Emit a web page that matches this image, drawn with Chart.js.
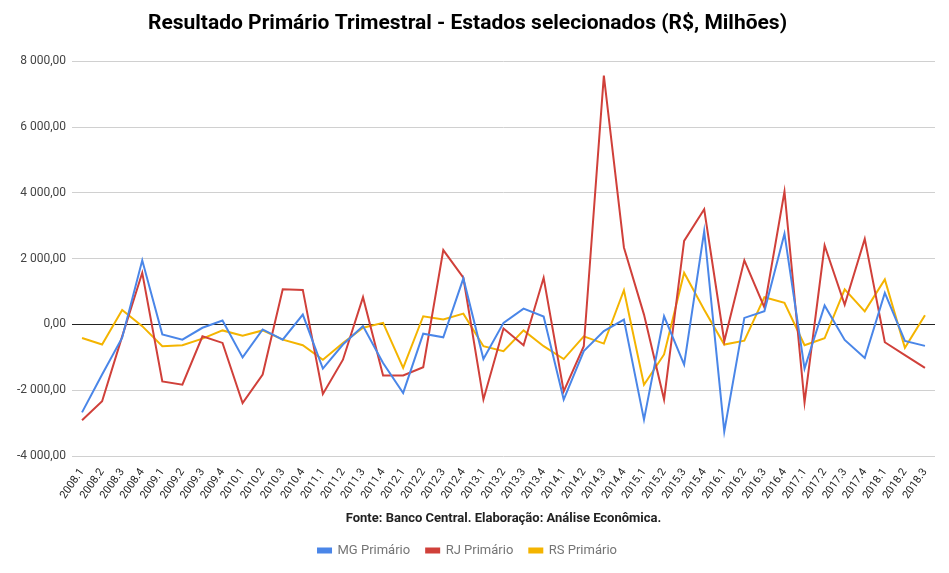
<!DOCTYPE html>
<html>
<head>
<meta charset="utf-8">
<script src="https://cdn.jsdelivr.net/npm/chart.js@4.4.1/dist/chart.umd.min.js"></script>
<style>
  html, body { margin: 0; padding: 0; background: #fff; }
  #wrap { width: 949px; height: 573px; }
</style>
</head>
<body>
<div id="wrap"><canvas id="mycanvas" width="949" height="573"></canvas></div>
<script>
var quarters = ["2008.1","2008.2","2008.3","2008.4","2009.1","2009.2","2009.3","2009.4",
  "2010.1","2010.2","2010.3","2010.4","2011.1","2011.2","2011.3","2011.4",
  "2012.1","2012.2","2012.3","2012.4","2013.1","2013.2","2013.3","2013.4",
  "2014.1","2014.2","2014.3","2014.4","2015.1","2015.2","2015.3","2015.4",
  "2016.1","2016.2","2016.3","2016.4","2017.1","2017.2","2017.3","2017.4",
  "2018.1","2018.2","2018.3"];

var mg = [-2670, -1520, -400, 1950, -300, -460, -100, 120, -1000, -150, -460, 300,
  -1340, -610, -50, -1170, -2080, -280, -390, 1400, -1050, 50, 480, 240,
  -2280, -810, -200, 150, -2890, 250, -1220, 2840, -3250, 200, 400, 2760,
  -1340, 580, -470, -1020, 960, -500, -650];

var rj = [-2910, -2330, -360, 1570, -1730, -1830, -360, -560, -2390, -1520, 1070, 1050,
  -2110, -1070, 830, -1550, -1550, -1300, 2260, 1420, -2280, -120, -630, 1420,
  -2030, -660, 7560, 2340, 300, -2280, 2540, 3500, -510, 1950, 520, 4040,
  -2370, 2400, 600, 2600, -540, -930, -1320];

var rs = [-410, -610, 440, -50, -660, -630, -430, -180, -340, -180, -460, -630,
  -1070, -560, -100, 50, -1320, 250, 150, 330, -660, -810, -180, -660,
  -1050, -360, -580, 1040, -1830, -910, 1570, 450, -610, -490, 830, 660,
  -630, -420, 1070, 400, 1370, -710, 280];

var yMin = -4000, yMax = 8000, yStep = 2000;

function fmt(v) {
  var neg = v < 0;
  var s = String(Math.abs(v)).replace(/\B(?=(\d{3})+(?!\d))/g, " ");
  return (neg ? "-" : "") + s + ",00";
}

var chartdata = {
  labels: quarters,
  datasets: [
    { label: "MG Primário", data: mg, borderColor: "#4a86e8", backgroundColor: "#4a86e8" },
    { label: "RJ Primário", data: rj, borderColor: "#d0403a", backgroundColor: "#d0403a" },
    { label: "RS Primário", data: rs, borderColor: "#f4b400", backgroundColor: "#f4b400" }
  ]
};
chartdata.datasets.forEach(function(d) {
  d.fill = false;
  d.tension = 0;
  d.borderWidth = 2;
  d.pointRadius = 0;
  d.pointHoverRadius = 0;
});

Chart.defaults.font.family = "Roboto, 'Noto Sans', sans-serif";

var ctx = document.getElementById("mycanvas");
var LineGraph = new Chart(ctx, {
  type: "line",
  data: chartdata,
  options: {
    responsive: false,
    animation: false,
    layout: { padding: { left: 0, right: 14, top: 8, bottom: 6 } },
    plugins: {
      title: {
        display: true,
        text: "Resultado Primário Trimestral - Estados selecionados (R$, Milhões)",
        color: "#000",
        font: { size: 21, weight: "bold" },
        padding: { top: 3, bottom: 25 }
      },
      legend: {
        position: "bottom",
        labels: {
          color: "#757575",
          font: { size: 13 },
          boxWidth: 13,
          boxHeight: 4,
          padding: 16
        }
      },
      tooltip: { enabled: false }
    },
    scales: {
      x: {
        offset: true,
        grid: { display: false },
        border: { display: false },
        ticks: {
          color: "#222",
          font: { size: 11 },
          autoSkip: false,
          minRotation: 55,
          maxRotation: 55,
          padding: 2
        },
        title: {
          display: true,
          text: "Fonte: Banco Central. Elaboração: Análise Econômica.",
          color: "#222",
          font: { size: 13, weight: "bold" },
          padding: { top: 8, bottom: 1 }
        }
      },
      y: {
        min: yMin,
        max: yMax,
        afterFit: function(scale) { scale.width = 72; },
        border: { display: false },
        grid: {
          drawTicks: false,
          color: function(c) { return c.tick && c.tick.value === 0 ? "#222" : "#d0d0d0"; },
          lineWidth: 1
        },
        ticks: {
          stepSize: yStep,
          color: "#444",
          font: { size: 12 },
          padding: 6,
          callback: function(v) { return fmt(v); }
        }
      }
    }
  }
});
</script>
</body>
</html>
